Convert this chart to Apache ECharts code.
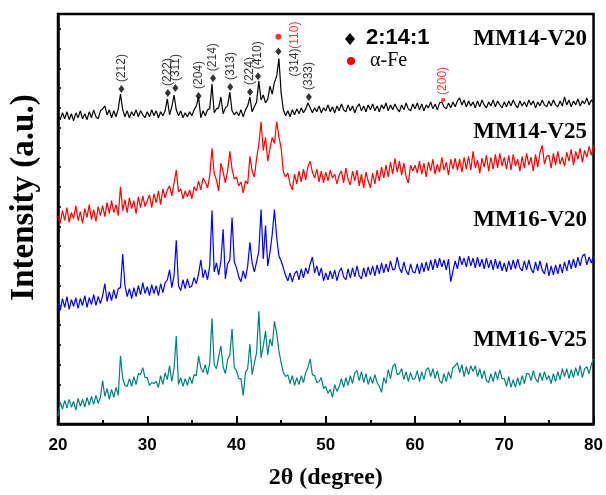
<!DOCTYPE html>
<html>
<head>
<meta charset="utf-8">
<script src="https://cdn.jsdelivr.net/npm/echarts@6/dist/echarts.min.js"></script>
<style>
  html, body { margin: 0; padding: 0; background: #fff; }
  #chart { width: 606px; height: 495px; }
</style>
</head>
<body>
<div id="chart"></div>
<script>
// 2theta sampling: 20 -> 80 deg, one value every 0.25 deg (241 points)
var angleStart = 20;
var angleStep = 0.25;

// intensities (arbitrary units, traces already offset)
var mm14v20 = [
  313,308,315,309,316,308,314,307,315,310,317,309,314,308,316,310,318,311,309,317,
  319,322,313,318,310,317,311,319,334,318,311,317,310,316,312,318,311,317,313,310,
  316,311,318,312,317,310,316,312,317,329,313,321,333,318,312,317,310,315,311,316,
  312,318,322,331,310,317,312,318,319,344,315,319,320,331,314,320,322,336,317,313,
  316,312,318,311,318,322,331,316,321,326,347,328,333,325,329,342,334,346,352,370,
  335,318,312,317,311,318,313,319,314,320,315,319,325,320,315,320,316,322,315,320,
  317,323,316,321,315,322,317,324,318,316,323,317,322,315,321,324,317,322,316,323,
  318,324,317,322,316,323,319,325,317,323,318,324,319,316,323,318,325,319,317,324,
  319,325,318,324,317,323,320,326,319,324,318,325,326,321,319,325,320,326,321,327,
  330,323,328,321,327,322,326,320,327,321,328,323,320,326,322,328,321,327,323,320,
  326,321,327,322,328,323,320,327,322,326,321,328,323,327,320,326,322,328,323,321,
  327,322,328,323,321,327,322,331,323,328,321,327,323,329,322,327,324,330,323,328,
  325
];
var mm14v25 = [
  211,203,216,206,219,204,214,208,221,206,215,203,218,209,222,207,217,205,220,211,
  221,210,224,213,226,214,222,211,240,216,227,214,229,218,226,213,230,219,231,220,
  226,232,219,233,224,236,222,238,229,237,241,231,244,257,235,238,228,236,230,237,
  228,240,236,246,237,249,245,239,251,279,254,247,236,264,255,244,256,276,258,248,
  250,241,245,234,246,243,271,256,250,269,283,306,277,290,266,279,290,284,306,291,
  279,255,250,254,243,237,253,243,256,245,258,247,261,266,255,249,258,245,256,244,
  255,246,257,249,253,243,252,256,244,259,248,242,256,246,257,241,253,239,255,246,
  239,254,243,257,246,260,249,262,250,265,253,269,255,266,252,264,250,244,262,256,
  262,254,266,253,264,250,265,256,268,253,263,255,270,257,265,252,268,258,269,257,
  268,255,270,258,271,257,276,259,267,254,269,260,272,256,270,258,273,259,274,261,
  270,258,272,257,273,261,268,256,271,259,274,262,270,256,273,260,275,282,263,271,
  272,259,274,262,276,263,270,261,275,266,278,262,276,268,279,265,277,270,281,272,
  282
];
var mm16v20 = [
  122,115,127,118,129,116,126,119,128,117,127,120,130,118,128,121,131,120,129,122,
  130,142,124,134,125,136,127,137,138,172,140,129,137,127,138,129,140,131,143,132,
  139,130,141,132,140,130,142,133,143,146,156,138,150,186,140,135,146,137,147,138,
  140,148,142,152,166,148,156,146,160,216,154,163,151,165,197,147,162,166,209,164,
  158,149,144,155,147,160,184,163,154,164,175,217,167,201,160,174,192,217,189,170,
  165,158,150,145,153,144,152,155,146,157,148,158,152,162,169,153,160,150,158,145,
  153,146,155,147,156,145,154,158,149,146,157,148,158,149,160,150,147,158,149,159,
  151,160,150,161,152,163,153,162,154,165,156,157,169,158,153,164,155,151,162,154,
  153,162,152,163,154,164,155,166,156,167,158,168,159,166,156,167,144,155,165,157,
  170,161,168,159,170,160,168,158,169,159,167,157,168,158,166,156,167,157,165,155,
  163,154,165,156,166,157,167,158,155,165,156,166,157,153,164,155,165,156,152,163,
  150,160,151,161,152,162,153,164,155,166,157,167,158,169,160,170,172,161,169,163,
  170
];
var mm16v25 = [
  8,22,15,24,16,25,17,23,14,26,18,25,17,27,19,28,20,29,21,27,
  44,28,36,25,35,27,37,29,69,46,39,38,46,38,48,40,51,50,57,47,
  47,39,42,41,43,37,49,40,52,45,59,43,56,89,40,47,38,46,39,48,
  41,50,49,69,57,52,60,50,62,107,60,56,68,79,58,51,65,70,96,57,
  54,46,46,29,52,56,81,50,62,72,114,67,79,94,70,86,79,104,92,74,
  62,52,48,50,41,49,39,47,40,49,42,52,57,66,50,49,42,43,47,36,
  38,31,35,27,40,33,38,46,37,47,39,49,41,52,54,44,53,42,51,40,
  48,41,50,42,38,32,47,41,55,46,58,61,50,51,56,45,53,43,52,45,
  46,54,43,53,45,55,57,48,56,46,54,44,41,51,43,53,46,57,59,62,
  52,60,48,58,50,59,53,59,48,56,46,54,44,42,51,43,53,45,55,46,
  46,38,48,37,45,37,47,39,49,41,51,51,44,54,46,42,52,44,53,45,
  49,41,51,43,53,45,56,48,56,46,55,47,57,49,59,47,56,58,51,60,
  66
];

// 2:14:1 phase reflections marked on the top trace: [2theta, height, hkl]
var phasePeaks = [
  [27.11, 339, '(212)'], [32.30, 335, '(222)'], [33.15, 340, '(311)'],
  [35.74, 332, '(204)'], [37.37, 350, '(214)'], [39.30, 341, '(313)'],
  [41.52, 336, '(224)'], [42.41, 352, '(410)'], [44.70, 377, '(314)'],
  [48.11, 331, '(333)']
];
// alpha-Fe reflections
var fePeaks = [[44.70, 392, '(110)'], [63.15, 328, '(200)']];

var xTicks = [20, 30, 40, 50, 60, 70, 80];

function toXY(arr) {
  return arr.map(function (v, i) { return [angleStart + i * angleStep, v]; });
}

var chart = echarts.init(document.getElementById('chart'));

var traceColors = ['#000000', '#ff0000', '#0000ff', '#008080'];
var traces = [mm14v20, mm14v25, mm16v20, mm16v25];
var traceNames = ['MM14-V20', 'MM14-V25', 'MM16-V20', 'MM16-V25'];

var series = traces.map(function (t, k) {
  return {
    name: traceNames[k],
    type: 'line',
    data: toXY(t),
    showSymbol: false,
    symbol: 'none',
    lineStyle: { color: traceColors[k], width: 1.2 },
    animation: false
  };
});

// labels are rotated 90deg, so offset is given in the rotated frame:
// [along text (screen up), across text (screen right)]
var peakLabel = {
  show: true,
  position: 'inside',
  rotate: 90,
  align: 'left',
  verticalAlign: 'middle',
  offset: [7, 0],
  fontFamily: 'Liberation Sans',
  fontSize: 12,
  color: '#000'
};

series.push({
  name: 'phase',
  type: 'scatter',
  symbol: 'diamond',
  symbolSize: [6, 8],
  itemStyle: { color: '#000' },
  data: phasePeaks.map(function (p) {
    var d = { value: [p[0], p[1]], name: p[2] };
    if (p[2] === '(314)') d.label = { offset: [-25, 16] };
    return d;
  }),
  label: Object.assign({}, peakLabel, { formatter: '{b}' }),
  animation: false,
  z: 5
});

series.push({
  name: 'fe',
  type: 'scatter',
  symbol: 'circle',
  itemStyle: { color: '#ff0000' },
  data: fePeaks.map(function (p, k) {
    var d = { value: [p[0], p[1]], name: p[2], symbolSize: k === 0 ? 6 : 4 };
    d.label = k === 0 ? { offset: [-12, 16] } : { offset: [5, 0] };
    return d;
  }),
  label: Object.assign({}, peakLabel, { formatter: '{b}', color: '#ff0000' }),
  animation: false,
  z: 5
});

var serifBold = { fontFamily: 'Liberation Serif', fontWeight: 'bold', fill: '#000' };

var option = {
  backgroundColor: '#fff',
  animation: false,
  grid: {
    left: 57, right: 8, top: 14, bottom: 66,
    show: true, borderColor: '#000', borderWidth: 2.5
  },
  xAxis: {
    type: 'value',
    min: xTicks[0],
    max: xTicks[xTicks.length - 1],
    interval: 10,
    name: '2θ (degree)',
    nameLocation: 'middle',
    nameGap: 42,
    nameTextStyle: { fontFamily: 'Liberation Serif', fontWeight: 'bold', fontSize: 24, color: '#000' },
    axisLine: { lineStyle: { color: '#000', width: 2.5 } },
    axisTick: { inside: true, length: 8, lineStyle: { color: '#000', width: 2 } },
    minorTick: { show: true, splitNumber: 2, length: 4, lineStyle: { color: '#000', width: 2 } },
    axisLabel: { margin: 13, fontFamily: 'Liberation Sans', fontWeight: 'bold', fontSize: 17, color: '#000' },
    splitLine: { show: false }
  },
  yAxis: {
    type: 'value',
    min: 0,
    max: 415,
    interval: 20,
    name: 'Intensity (a.u.)',
    nameLocation: 'middle',
    nameGap: 17,
    nameTextStyle: {
      fontFamily: 'Liberation Serif', fontWeight: 'bold', fontSize: 33, color: '#000',
      padding: [0, 0, 0, 43]
    },
    axisLine: { lineStyle: { color: '#000', width: 2.5 } },
    axisTick: { inside: true, length: 3, lineStyle: { color: '#000', width: 1.5 } },
    axisLabel: { show: false },
    splitLine: { show: false }
  },
  graphic: [
    { type: 'polygon', shape: { points: [[350, 33], [355, 39], [350, 45], [345, 39]] }, style: { fill: '#000' } },
    { type: 'text', x: 366, y: 38, style: { text: '2:14:1', fontFamily: 'Liberation Sans', fontWeight: 'bold', fontSize: 22, fill: '#000', textVerticalAlign: 'middle' } },
    { type: 'circle', shape: { cx: 351, cy: 61, r: 4 }, style: { fill: '#ff0000' } },
    { type: 'text', x: 370, y: 61, style: { text: 'α-Fe', fontFamily: 'Liberation Serif', fontSize: 20, fill: '#000', textVerticalAlign: 'middle' } },
    { type: 'text', x: 587, y: 39, style: Object.assign({ text: 'MM14-V20', fontSize: 23, textAlign: 'right', textVerticalAlign: 'middle' }, serifBold) },
    { type: 'text', x: 587, y: 132, style: Object.assign({ text: 'MM14-V25', fontSize: 23, textAlign: 'right', textVerticalAlign: 'middle' }, serifBold) },
    { type: 'text', x: 587, y: 220, style: Object.assign({ text: 'MM16-V20', fontSize: 23, textAlign: 'right', textVerticalAlign: 'middle' }, serifBold) },
    { type: 'text', x: 587, y: 340, style: Object.assign({ text: 'MM16-V25', fontSize: 23, textAlign: 'right', textVerticalAlign: 'middle' }, serifBold) }
  ],
  series: series
};

chart.setOption(option);
</script>
</body>
</html>
